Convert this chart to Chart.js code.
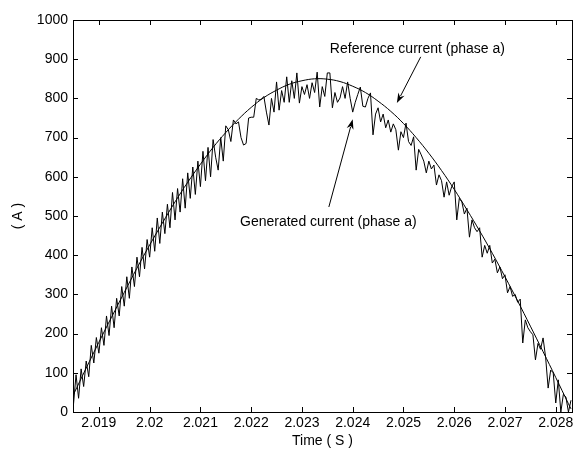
<!DOCTYPE html>
<html>
<head>
<meta charset="utf-8">
<script src="https://cdn.jsdelivr.net/npm/chart.js@4.4.1/dist/chart.umd.min.js"></script>
<style>
  body { margin: 0; background: #fff; }
</style>
</head>
<body>
<canvas id="currentChart" width="583" height="450"></canvas>
<script>
// reference current (phase a)
const refTime = [
    2.01845, 2.0185, 2.01875, 2.019, 2.01925, 2.0195, 2.01975, 2.02, 2.02025, 2.0205, 2.02075,
    2.021, 2.02125, 2.0215, 2.02175, 2.022, 2.02225, 2.0225, 2.02275, 2.023, 2.02325,
    2.0235, 2.02375, 2.024, 2.02425, 2.0245, 2.02475, 2.025, 2.02525, 2.0255, 2.02575,
    2.026, 2.02625, 2.0265, 2.02675, 2.027, 2.02725, 2.0275, 2.02775, 2.028, 2.02825, 2.0283
];
const refCurrent = [
    32, 45, 112, 178, 242, 305, 367, 426, 482, 536, 586,
    632, 675, 713, 747, 777, 802, 821, 836, 845, 850,
    849, 843, 831, 815, 793, 767, 736, 700, 660, 616,
    568, 516, 462, 405, 345, 283, 219, 154, 88, 21, 8
];

// generated current (phase a), the noisy trace
const genTime = [
    2.0185, 2.01855, 2.0186, 2.01865, 2.0187, 2.01875, 2.0188, 2.01885, 2.0189, 2.01895,
    2.019, 2.01905, 2.0191, 2.01915, 2.0192, 2.01925, 2.0193, 2.01935, 2.0194, 2.01945,
    2.0195, 2.01955, 2.0196, 2.01965, 2.0197, 2.01975, 2.0198, 2.01985, 2.0199, 2.01995,
    2.02, 2.02005, 2.0201, 2.02015, 2.0202, 2.02025, 2.0203, 2.02035, 2.0204, 2.02045,
    2.0205, 2.02055, 2.0206, 2.02065, 2.0207, 2.02075, 2.0208, 2.02085, 2.0209, 2.02095,
    2.021, 2.02105, 2.0211, 2.02115, 2.0212, 2.02125, 2.0213, 2.02135, 2.0214, 2.02145,
    2.0215, 2.02155, 2.0216, 2.02165, 2.0217, 2.02175, 2.0218, 2.02185, 2.0219, 2.02195,
    2.022, 2.02205, 2.0221, 2.02215, 2.0222, 2.02225, 2.0223, 2.02235, 2.0224, 2.02245,
    2.0225, 2.02255, 2.0226, 2.02265, 2.0227, 2.02275, 2.0228, 2.02285, 2.0229, 2.02295,
    2.023, 2.02305, 2.0231, 2.02315, 2.0232, 2.02325, 2.0233, 2.02335, 2.0234, 2.02345,
    2.0235, 2.02355, 2.0236, 2.02365, 2.0237, 2.02375, 2.0238, 2.02385, 2.0239, 2.02395,
    2.024, 2.02405, 2.0241, 2.02415, 2.0242, 2.02425, 2.0243, 2.02435, 2.0244, 2.02445,
    2.0245, 2.02455, 2.0246, 2.02465, 2.0247, 2.02475, 2.0248, 2.02485, 2.0249, 2.02495,
    2.025, 2.02505, 2.0251, 2.02515, 2.0252, 2.02525, 2.0253, 2.02535, 2.0254, 2.02545,
    2.0255, 2.02555, 2.0256, 2.02565, 2.0257, 2.02575, 2.0258, 2.02585, 2.0259, 2.02595,
    2.026, 2.02605, 2.0261, 2.02615, 2.0262, 2.02625, 2.0263, 2.02635, 2.0264, 2.02645,
    2.0265, 2.02655, 2.0266, 2.02665, 2.0267, 2.02675, 2.0268, 2.02685, 2.0269, 2.02695,
    2.027, 2.02705, 2.0271, 2.02715, 2.0272, 2.02725, 2.0273, 2.02735, 2.0274, 2.02745,
    2.0275, 2.02755, 2.0276, 2.02765, 2.0277, 2.02775, 2.0278, 2.02785, 2.0279, 2.02795,
    2.028, 2.02805, 2.0281, 2.02815, 2.0282, 2.02825, 2.0283
];
const genCurrent = [
    20, 95, 35, 110, 65, 130, 90, 170, 125, 190,
    150, 215, 170, 245, 195, 270, 215, 290, 245, 320,
    270, 345, 290, 370, 320, 395, 345, 420, 365, 440,
    395, 470, 410, 495, 430, 510, 455, 530, 470, 560,
    490, 570, 510, 595, 520, 610, 545, 625, 555, 640,
    575, 665, 590, 675, 600, 695, 650, 617, 700, 640,
    730, 720, 690, 745, 735, 740, 700, 681, 685, 750,
    752, 752, 800, 796, 798, 805, 765, 732, 800, 765,
    842, 770, 820, 790, 855, 790, 845, 800, 865, 788,
    830, 810, 835, 800, 840, 815, 867, 778, 830, 805,
    865, 865, 776, 815, 790, 801, 830, 800, 842, 800,
    765, 790, 810, 829, 780, 778, 800, 814, 707, 760,
    776, 740, 760, 725, 745, 714, 735, 720, 668, 715,
    700, 737, 690, 680, 702, 617, 670, 656, 640, 610,
    640, 620, 630, 579, 605, 590, 548, 587, 553, 575,
    587, 490, 545, 536, 505, 520, 446, 490, 470, 460,
    470, 395, 425, 405, 425, 380, 390, 355, 370, 340,
    350, 304, 320, 295, 300, 280, 288, 176, 235, 215,
    205, 197, 133, 175, 160, 189, 140, 61, 107, 100,
    23, 82, 0, 45, 38, 0, 30
];

const timeTicks = [2.019, 2.02, 2.021, 2.022, 2.023, 2.024, 2.025, 2.026, 2.027, 2.028];
const ampTicks = [0, 100, 200, 300, 400, 500, 600, 700, 800, 900, 1000];

const FONT = '"Liberation Sans", Arial, sans-serif';

// annotation anchors, in data units
const notes = [
    { text: 'Reference current (phase a)', t: 2.02355, v: 926, from: [2.02534, 906], to: [2.02487, 788] },
    { text: 'Generated current (phase a)', t: 2.02178, v: 485, from: [2.02353, 523], to: [2.0240, 747] }
];

function drawArrow(ctx, x0, y0, x1, y1) {
    const ang = Math.atan2(y1 - y0, x1 - x0);
    const len = 10, half = 3.5;
    ctx.beginPath();
    ctx.moveTo(x0, y0);
    ctx.lineTo(x1 - Math.cos(ang) * len * 0.8, y1 - Math.sin(ang) * len * 0.8);
    ctx.stroke();
    ctx.beginPath();
    ctx.moveTo(x1, y1);
    ctx.lineTo(x1 - Math.cos(ang) * len - Math.sin(ang) * half, y1 - Math.sin(ang) * len + Math.cos(ang) * half);
    ctx.lineTo(x1 - Math.cos(ang) * len * 0.7, y1 - Math.sin(ang) * len * 0.7);
    ctx.lineTo(x1 - Math.cos(ang) * len + Math.sin(ang) * half, y1 - Math.sin(ang) * len - Math.cos(ang) * half);
    ctx.closePath();
    ctx.fill();
}

// matlab style box with inward ticks on all four sides + the text labels
const boxPlugin = {
    id: 'boxPlugin',
    afterDatasetsDraw(chart) {
        const { ctx, chartArea: a, scales: { x, y } } = chart;
        ctx.save();
        ctx.strokeStyle = '#000';
        ctx.fillStyle = '#000';
        ctx.lineWidth = 1;
        ctx.strokeRect(a.left + 0.5, a.top + 0.5, a.right - a.left, a.bottom - a.top);

        ctx.beginPath();
        x.ticks.forEach(tk => {
            const px = Math.round(x.getPixelForValue(tk.value)) + 0.5;
            ctx.moveTo(px, a.bottom); ctx.lineTo(px, a.bottom - 5);
            ctx.moveTo(px, a.top); ctx.lineTo(px, a.top + 5);
        });
        y.ticks.forEach(tk => {
            const py = Math.round(y.getPixelForValue(tk.value)) + 0.5;
            ctx.moveTo(a.left, py); ctx.lineTo(a.left + 5, py);
            ctx.moveTo(a.right, py); ctx.lineTo(a.right - 5, py);
        });
        ctx.stroke();

        ctx.font = '14px ' + FONT;
        ctx.textBaseline = 'middle';
        ctx.textAlign = 'left';
        notes.forEach(n => {
            ctx.fillText(n.text, x.getPixelForValue(n.t), y.getPixelForValue(n.v));
            drawArrow(ctx,
                x.getPixelForValue(n.from[0]), y.getPixelForValue(n.from[1]),
                x.getPixelForValue(n.to[0]), y.getPixelForValue(n.to[1]));
        });
        ctx.restore();
    }
};

const ctx = document.getElementById('currentChart').getContext('2d');

new Chart(ctx, {
    type: 'line',
    data: {
        datasets: [
            {
                label: 'Reference current (phase a)',
                data: refTime.map((t, i) => ({ x: t, y: refCurrent[i] })),
                borderColor: '#000',
                borderWidth: 1,
                pointRadius: 0,
                tension: 0.4,
                fill: false
            },
            {
                label: 'Generated current (phase a)',
                data: genTime.map((t, i) => ({ x: t, y: genCurrent[i] })),
                borderColor: '#000',
                borderWidth: 1,
                pointRadius: 0,
                tension: 0,
                fill: false
            }
        ]
    },
    options: {
        responsive: false,
        animation: false,
        layout: { padding: { left: 0, top: 20, right: 11, bottom: 0 } },
        plugins: {
            legend: { display: false },
            tooltip: { enabled: false }
        },
        scales: {
            x: {
                type: 'linear',
                min: 2.01849,
                max: 2.02832,
                afterBuildTicks: scale => { scale.ticks = timeTicks.map(v => ({ value: v })); },
                afterFit: scale => { scale.height = 38; },
                grid: { display: false, drawTicks: false },
                border: { display: false },
                ticks: {
                    color: '#000',
                    padding: 3,
                    maxRotation: 0,
                    autoSkip: false,
                    font: { family: FONT, size: 14 },
                    callback: v => String(+Number(v).toFixed(3))
                },
                title: {
                    display: true,
                    text: 'Time ( S )',
                    color: '#000',
                    padding: { top: 0, bottom: 0 },
                    font: { family: FONT, size: 14 }
                }
            },
            y: {
                min: 0,
                max: 1000,
                afterBuildTicks: scale => { scale.ticks = ampTicks.map(v => ({ value: v })); },
                afterFit: scale => { scale.width = 73; },
                grid: { display: false, drawTicks: false },
                border: { display: false },
                ticks: {
                    color: '#000',
                    padding: 5,
                    autoSkip: false,
                    font: { family: FONT, size: 14 },
                    callback: v => String(v)
                },
                title: {
                    display: true,
                    text: '( A )',
                    color: '#000',
                    padding: { top: 10, bottom: 0 },
                    font: { family: FONT, size: 14 }
                }
            }
        }
    },
    plugins: [boxPlugin]
});
</script>
</body>
</html>
